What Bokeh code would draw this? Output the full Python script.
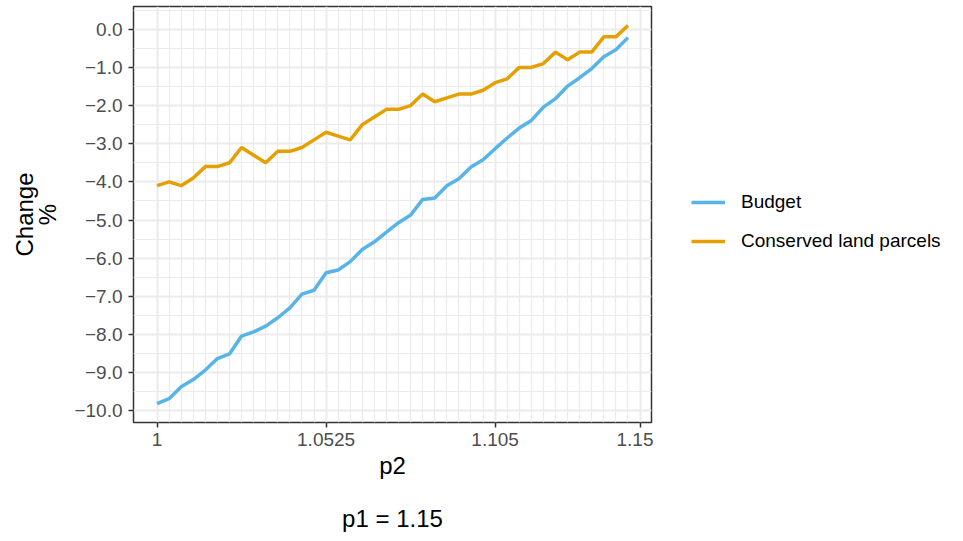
from bokeh.plotting import figure
from bokeh.layouts import row, column
from bokeh.models import FixedTicker, Legend, LegendItem, Title, Range1d
from bokeh.embed import file_html
from bokeh.resources import INLINE

# ---- data ----
p2 = [1.0, 1.00375, 1.0075, 1.01125, 1.015, 1.01875, 1.0225, 1.02625, 1.03, 1.03375,
      1.0375, 1.04125, 1.045, 1.04875, 1.0525, 1.05625, 1.06, 1.06375, 1.0675, 1.07125,
      1.075, 1.07875, 1.0825, 1.08625, 1.09, 1.09375, 1.0975, 1.10125, 1.105, 1.10875,
      1.1125, 1.11625, 1.12, 1.12375, 1.1275, 1.13125, 1.135, 1.13875, 1.1425, 1.14625]

budget = [-9.81, -9.68, -9.37, -9.18, -8.93, -8.63, -8.51, -8.04, -7.93, -7.78,
          -7.56, -7.30, -6.94, -6.84, -6.38, -6.31, -6.09, -5.77, -5.57, -5.32,
          -5.07, -4.87, -4.46, -4.42, -4.10, -3.92, -3.61, -3.42, -3.13, -2.85,
          -2.59, -2.39, -2.04, -1.82, -1.49, -1.27, -1.03, -0.72, -0.54, -0.22]

conserved = [-4.1, -4.0, -4.1, -3.9, -3.6, -3.6, -3.5, -3.1, -3.3, -3.5,
             -3.2, -3.2, -3.1, -2.9, -2.7, -2.8, -2.9, -2.5, -2.3, -2.1,
             -2.1, -2.0, -1.7, -1.9, -1.8, -1.7, -1.7, -1.6, -1.4, -1.3,
             -1.0, -1.0, -0.9, -0.6, -0.8, -0.6, -0.6, -0.2, -0.2, 0.1]

series_names = ["Budget", "Conserved land parcels"]
series_colors = ["#56B4E9", "#E69F00"]

x_ticks = [1.0, 1.0525, 1.105, 1.15]
x_tick_labels = ["1", "1.0525", "1.105", "1.15"]
x_minor = [v for v in p2 if v not in x_ticks]

y_ticks = [-10, -9, -8, -7, -6, -5, -4, -3, -2, -1, 0]
y_tick_labels = ["\u221210.0", "\u22129.0", "\u22128.0", "\u22127.0", "\u22126.0",
                 "\u22125.0", "\u22124.0", "\u22123.0", "\u22122.0", "\u22121.0", "0.0"]
y_minor = [-9.5, -8.5, -7.5, -6.5, -5.5, -4.5, -3.5, -2.5, -1.5, -0.5, 0.5]

caption_text = "p1 = 1.15"

FONT = "Liberation Sans"

xmin, xmax = min(p2), max(p2)
ymin = min(min(budget), min(conserved))
ymax = max(max(budget), max(conserved))
xpad = 0.05 * (xmax - xmin)
ypad = 0.05 * (ymax - ymin)

H_TOTAL = 533
H_MAIN = 488
W_MAIN = 653
p = figure(width=W_MAIN, height=H_MAIN, output_backend="svg", toolbar_location=None,
           x_range=Range1d(xmin - xpad, xmax + xpad),
           y_range=Range1d(ymin - ypad, ymax + ypad),
           min_border_left=133, min_border_right=2,
           min_border_top=6, min_border_bottom=H_MAIN - 422)

p.background_fill_color = "white"
p.border_fill_color = "white"
p.outline_line_color = "#333333"
p.outline_line_width = 1.5

r1 = p.line(p2, budget, line_color=series_colors[0], line_width=3.5)
r2 = p.line(p2, conserved, line_color=series_colors[1], line_width=3.5)

# axes
p.xaxis.ticker = FixedTicker(ticks=x_ticks, minor_ticks=x_minor)
p.xaxis.major_label_overrides = {k: v for k, v in zip(x_ticks, x_tick_labels)}
p.yaxis.ticker = FixedTicker(ticks=y_ticks, minor_ticks=y_minor)
p.yaxis.major_label_overrides = {k: v for k, v in zip(y_ticks, y_tick_labels)}

for ax in (p.xaxis[0], p.yaxis[0]):
    ax.axis_line_color = None
    ax.major_tick_line_color = "#333333"
    ax.major_tick_line_width = 1.5
    ax.major_tick_out = 5
    ax.major_tick_in = 0
    ax.minor_tick_line_color = None
    ax.major_label_text_font = FONT
    ax.major_label_text_font_size = "19px"
    ax.major_label_text_color = "#4D4D4D"
    ax.axis_label_text_font = FONT
    ax.axis_label_text_font_size = "24px"
    ax.axis_label_text_font_style = "normal"
    ax.axis_label_text_color = "black"

p.xaxis.major_label_standoff = 5
p.yaxis.major_label_standoff = 6
p.xaxis.axis_label = "p2"
p.xaxis.axis_label_standoff = 3
p.yaxis.axis_label = "Change\n%"
p.yaxis.axis_label_standoff = 10
p.yaxis.axis_label_text_line_height = 0.85

# grids
p.xgrid.grid_line_color = "#EBEBEB"
p.xgrid.grid_line_width = 2
p.xgrid.minor_grid_line_color = "#EBEBEB"
p.xgrid.minor_grid_line_width = 1.2
p.ygrid.grid_line_color = "#EBEBEB"
p.ygrid.grid_line_width = 2
p.ygrid.minor_grid_line_color = "#EBEBEB"
p.ygrid.minor_grid_line_width = 1.2

# ---- legend panel (separate figure to the right; its frame is aligned with the main one) ----
lg = figure(width=947 - W_MAIN, height=H_MAIN, output_backend="svg", toolbar_location=None,
            x_axis_location=None, y_axis_location=None,
            x_range=Range1d(-2, -1), y_range=Range1d(-2, -1),
            min_border_left=0, min_border_right=0, min_border_top=6,
            min_border_bottom=H_MAIN - 422)
lg.outline_line_color = None
lg.grid.visible = False
lg.background_fill_color = "white"
lg.border_fill_color = "white"
# legend keys: same series, kept outside this panel's visible ranges
k1 = lg.line(p2, budget, line_color=series_colors[0], line_width=3.5)
k2 = lg.line(p2, conserved, line_color=series_colors[1], line_width=3.5)

legend = Legend(items=[LegendItem(label=series_names[0], renderers=[k1]),
                       LegendItem(label=series_names[1], renderers=[k2])],
                location=(38, 170), orientation="vertical",
                border_line_color=None, background_fill_alpha=0,
                padding=0, margin=0, spacing=17,
                glyph_width=34, glyph_height=20, label_height=20,
                label_standoff=16, label_text_font=FONT,
                label_text_font_size="19px", label_text_color="black")
lg.add_layout(legend)

# ---- caption strip below the main panel ----
cf = figure(width=W_MAIN, height=H_TOTAL - H_MAIN, output_backend="svg",
            toolbar_location=None, x_axis_location=None, y_axis_location=None,
            x_range=Range1d(0, 1), y_range=Range1d(0, 1),
            min_border_left=133, min_border_right=2, min_border_top=43,
            min_border_bottom=0)
cf.outline_line_color = None
cf.grid.visible = False
cf.background_fill_color = "white"
cf.border_fill_color = "white"
cf.title = Title(text=caption_text, align="center", text_font=FONT,
                 text_font_size="24px", text_font_style="normal",
                 text_color="black", standoff=0)
cf.title_location = "above"

layout = column(row(p, lg), cf)
open("out.html", "w").write(file_html(layout, INLINE))
